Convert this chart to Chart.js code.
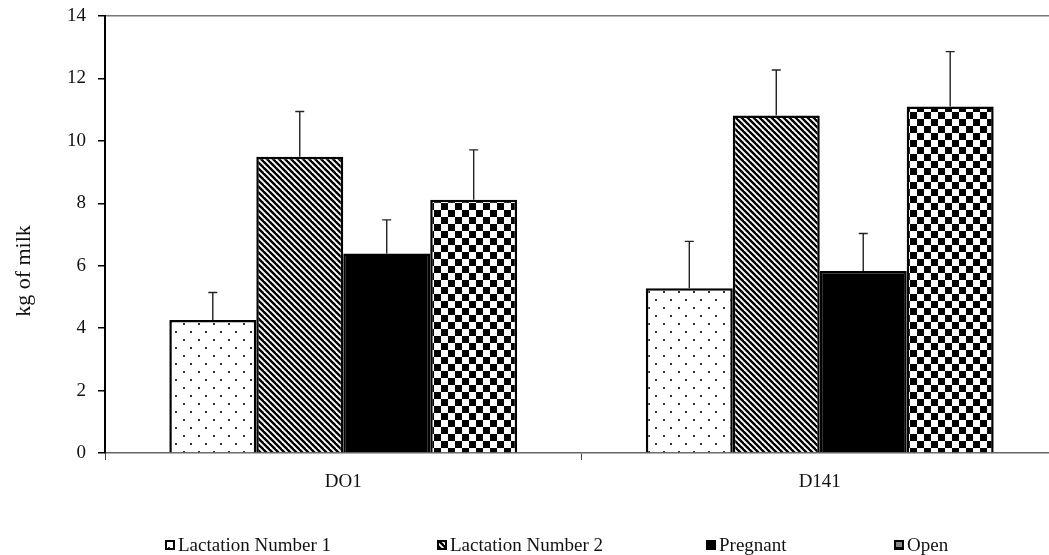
<!DOCTYPE html>
<html>
<head>
<meta charset="utf-8">
<script src="https://cdn.jsdelivr.net/npm/chart.js@4"></script>
<style>
  html, body { margin: 0; padding: 0; background: #fff; overflow: hidden; }
  #wrap { position: relative; width: 1058px; height: 555px; }
</style>
</head>
<body>
<div id="wrap"><canvas id="c"></canvas></div>
<script>
// ---- data ----
const categories = ['DO1', 'D141'];
const seriesNames = ['Lactation Number 1', 'Lactation Number 2', 'Pregnant', 'Open'];
const lactation1 = [4.26, 5.28];
const lactation2 = [9.49, 10.81];
const pregnant = [6.39, 5.83];
const open = [8.11, 11.10];
const lactation1Err = [0.88, 1.50];
const lactation2Err = [1.45, 1.46];
const pregnantErr = [1.08, 1.20];
const openErr = [1.60, 1.76];
const yTicks = [0, 2, 4, 6, 8, 10, 12, 14];
const yTitle = 'kg of milk';

// ---- patterns ----
function mk(w, h, draw) {
  const c = document.createElement('canvas');
  c.width = w; c.height = h;
  const g = c.getContext('2d');
  g.fillStyle = '#fff'; g.fillRect(0, 0, w, h);
  draw(g, w, h);
  return document.createElement('canvas').getContext('2d').createPattern(c, 'repeat');
}
const dotPat = mk(15, 16, g => {
  g.fillStyle = '#333';
  g.fillRect(3, 3, 2, 2);
  g.fillRect(10, 11, 2, 2);
});
const stripePat = mk(6, 6, g => {
  g.strokeStyle = '#000'; g.lineWidth = 2.4;
  for (let o = -6; o <= 6; o += 6) {
    g.beginPath(); g.moveTo(o - 1, -1); g.lineTo(o + 7, 7); g.stroke();
  }
});
const checkPat = mk(14, 14, g => {
  g.fillStyle = '#000';
  g.fillRect(0, 0, 7, 7);
  g.fillRect(7, 7, 7, 7);
});
const fills = [dotPat, stripePat, '#000', checkPat];
const values = [lactation1, lactation2, pregnant, open];
const errs = [lactation1Err, lactation2Err, pregnantErr, openErr];

const FONT = '"Liberation Serif", "Times New Roman", serif';

const errorBars = {
  id: 'errorBars',
  afterDatasetsDraw(chart) {
    const ctx = chart.ctx, y = chart.scales.y;
    ctx.save();
    ctx.strokeStyle = '#222'; ctx.lineWidth = 1.4;
    chart.data.datasets.forEach((ds, i) => {
      const meta = chart.getDatasetMeta(i);
      meta.data.forEach((bar, j) => {
        const top = y.getPixelForValue(ds.data[j] + ds.err[j]);
        ctx.beginPath();
        ctx.moveTo(bar.x, bar.y); ctx.lineTo(bar.x, top);
        ctx.moveTo(bar.x - 4.5, top); ctx.lineTo(bar.x + 4.5, top);
        ctx.stroke();
      });
    });
    ctx.restore();
  }
};

const legendX = [165, 437, 706, 894];
const customLegend = {
  id: 'customLegend',
  afterDraw(chart) {
    const ctx = chart.ctx;
    ctx.save();
    ctx.font = '19px ' + FONT;
    ctx.textBaseline = 'middle';
    const cy = 545;
    chart.data.datasets.forEach((ds, i) => {
      const x = legendX[i];
      ctx.fillStyle = ds.backgroundColor;
      ctx.fillRect(x, cy - 5, 10, 10);
      if (i === 3) { ctx.fillStyle = '#888'; ctx.fillRect(x + 2, cy - 3, 6, 5); }
      ctx.strokeStyle = '#000'; ctx.lineWidth = 2;
      ctx.strokeRect(x + 1, cy - 4, 8, 8);
      ctx.fillStyle = '#111';
      ctx.fillText(ds.label, x + 13, cy + 1);
    });
    // y-axis title
    ctx.translate(24, 271);
    ctx.rotate(-Math.PI / 2);
    ctx.textAlign = 'center';
    ctx.font = '22px ' + FONT;
    ctx.fillStyle = '#111';
    ctx.fillText(yTitle, 0, 0);
    ctx.restore();
  }
};

new Chart(document.getElementById('c'), {
  type: 'bar',
  data: {
    labels: categories,
    datasets: seriesNames.map((n, i) => ({
      label: n,
      data: values[i],
      err: errs[i],
      backgroundColor: fills[i],
      borderColor: '#000',
      borderWidth: 2.5,
      categoryPercentage: 0.73,
      barPercentage: 1.0
    }))
  },
  options: {
    responsive: true,
    maintainAspectRatio: false,
    animation: false,
    layout: { padding: { top: 16, right: 0, left: 0, bottom: 0 } },
    plugins: { legend: { display: false }, tooltip: { enabled: false } },
    scales: {
      x: {
        afterFit: s => { s.height = 102; },
        grid: { offset: true, drawOnChartArea: false, color: '#444', tickLength: 7, lineWidth: 1 },
        border: { color: '#666', width: 1.5 },
        ticks: { font: { family: FONT, size: 19 }, color: '#111', padding: 11 }
      },
      y: {
        min: 0, max: 14,
        afterFit: s => { s.width = 105; s.paddingTop = 0; },
        afterBuildTicks: s => { s.ticks = yTicks.map(v => ({ value: v })); },
        grid: {
          color: c => (c.tick && c.tick.value === 14) ? '#777' : 'rgba(0,0,0,0)',
          lineWidth: 1.5,
          tickColor: '#000',
          tickLength: 7
        },
        border: { color: '#000', width: 2 },
        ticks: { font: { family: FONT, size: 19 }, color: '#111', padding: 12 }
      }
    }
  },
  plugins: [errorBars, customLegend]
});
</script>
</body>
</html>
